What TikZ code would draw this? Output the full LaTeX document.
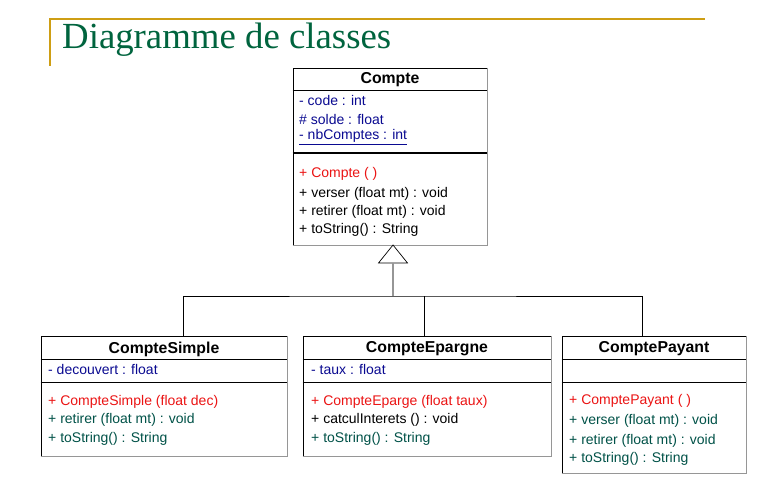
\documentclass[tikz,border=0pt]{standalone}
\usepackage{fontspec}
\setmainfont{Liberation Sans}
\newfontfamily\headfont{Liberation Serif}
\definecolor{gold}{RGB}{206,158,20}
\definecolor{headgreen}{RGB}{0,100,62}
\definecolor{attrblue}{RGB}{10,10,145}
\definecolor{ctorred}{RGB}{235,20,20}
\definecolor{opteal}{RGB}{0,82,72}
\definecolor{edgegray}{RGB}{150,150,150}
\tikzset{
  classbox/.style={draw=black, line width=0.8pt, fill=white, inner sep=0pt},
  classname/.style={inner sep=0pt, font=\fontsize{15.8}{18}\selectfont\bfseries},
  member/.style={anchor=west, inner sep=0pt, yshift=-1pt, font=\fontsize{14}{16}\selectfont},
  attr/.style={member, text=attrblue},
  ctor/.style={member, text=ctorred},
  op/.style={member, text=opteal},
  opblack/.style={member, text=black},
  sep/.style={line width=0.8pt},
  shade/.style={draw=edgegray, line width=1.2pt},
  inherit/.style={line width=0.8pt, black},
}
\begin{document}
\begin{tikzpicture}[x=1pt, y=-1pt]
\useasboundingbox (0,0) rectangle (759,484);

% heading
\draw[gold, line width=1.6pt] (50,66) -- (50,19) -- (705,19);
\node[anchor=base west, inner sep=0pt, text=headgreen,
      font=\headfont\fontsize{36.8}{40}\selectfont] (heading) at (62,49) {Diagramme de classes};

% ---- class Compte ----
\node[classbox, minimum width=194pt, minimum height=177pt] (Compte) at (390,156.5) {};
\draw[shade] (Compte.south west) -- (Compte.south east) -- (Compte.north east);
\draw[sep] (Compte.west |- 0,90) -- (Compte.east |- 0,90);
\draw[line width=2pt] (Compte.west |- 0,153) -- (Compte.east |- 0,153);
\node[classname] (CompteName) at (390,80) {Compte};
\node[attr] (c1) at (299,99) {- code : int};
\node[attr] (c2) at (299,118) {\# solde : float};
\node[attr] (c3) at (299,136) {\underline{- nbComptes : int}};
\node[ctor] (c4) at (299,173) {+ Compte ( )};
\node[opblack] (c5) at (299,193) {+ verser (float mt) : void};
\node[opblack] (c6) at (299,211) {+ retirer (float mt) : void};
\node[opblack] (c7) at (299,229) {+ toString() : String};

% ---- class CompteSimple ----
\node[classbox, minimum width=246pt, minimum height=120pt] (CS) at (164,396) {};
\draw[shade] (CS.south west) -- (CS.south east) -- (CS.north east);
\draw[sep] (CS.west |- 0,359) -- (CS.east |- 0,359);
\draw[sep] (CS.west |- 0,382) -- (CS.east |- 0,382);
\node[classname] (CSName) at (164,349) {CompteSimple};
\node[attr] (s1) at (48,368) {- decouvert : float};
\node[ctor] (s2) at (48,401) {+ CompteSimple (float dec)};
\node[op] (s3) at (48,419) {+ retirer (float mt) : void};
\node[op] (s4) at (48,438) {+ toString() : String};

% ---- class CompteEpargne ----
\node[classbox, minimum width=248pt, minimum height=120pt] (CE) at (427,396) {};
\draw[shade] (CE.south west) -- (CE.south east) -- (CE.north east);
\draw[sep] (CE.west |- 0,359) -- (CE.east |- 0,359);
\draw[sep] (CE.west |- 0,382) -- (CE.east |- 0,382);
\node[classname] (CEName) at (427,349) {CompteEpargne};
\node[attr] (e1) at (311,368) {- taux : float};
\node[ctor] (e2) at (311,401) {+ CompteEparge (float taux)};
\node[opblack] (e3) at (311,419) {+ catculInterets () : void};
\node[op] (e4) at (311,438) {+ toString() : String};

% ---- class ComptePayant ----
\node[classbox, minimum width=184pt, minimum height=137pt] (CP) at (654,404.5) {};
\draw[shade] (CP.south west) -- (CP.south east) -- (CP.north east);
\draw[sep] (CP.west |- 0,359) -- (CP.east |- 0,359);
\draw[sep] (CP.west |- 0,382) -- (CP.east |- 0,382);
\node[classname] (CPName) at (654,349) {ComptePayant};
\node[ctor] (p1) at (569,400) {+ ComptePayant ( )};
\node[op] (p2) at (569,420) {+ verser (float mt) : void};
\node[op] (p3) at (569,440) {+ retirer (float mt) : void};
\node[op] (p4) at (569,458) {+ toString() : String};

% ---- generalisation ----
\coordinate (apex) at (393,245);
\coordinate (triBase) at (393,263);
\coordinate (hub) at (393,296);
\coordinate (csTop) at (183,336);
\coordinate (ceTop) at (424,336);
\coordinate (cpTop) at (642,336);
\draw[line width=0.7pt, fill=white] (apex) -- ([xshift=-14.5pt]triBase) -- ([xshift=14.5pt]triBase) -- cycle;
\draw[edgegray, line width=1.2pt] (triBase) -- (hub);
\draw[inherit] (csTop) |- (hub) -| (cpTop);
\draw[inherit] (ceTop) -- (ceTop |- hub);
\end{tikzpicture}
\end{document}
